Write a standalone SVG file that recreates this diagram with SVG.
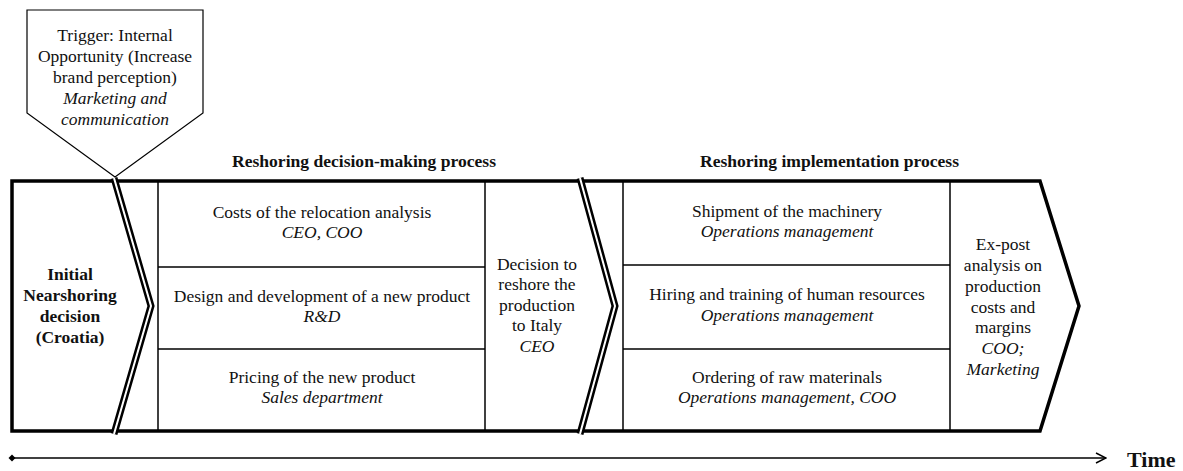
<svg xmlns="http://www.w3.org/2000/svg" width="1183" height="471" viewBox="0 0 1183 471">
  <style>
    .txt { font-family: "Liberation Serif", "Times New Roman", serif; font-size: 17.5px; fill: #111; text-anchor: middle; }
    .it { font-style: italic; }
    .bold { font-weight: bold; }
    .hdr { font-family: "Liberation Serif", "Times New Roman", serif; font-size: 17.5px; font-weight: bold; fill: #111; }
    .frame { fill: #fff; stroke: #000; stroke-width: 3.5; stroke-linejoin: miter; }
    .cell { fill: none; stroke: #000; stroke-width: 1.5; }
    .chev-out { fill: none; stroke: #000; stroke-width: 7; stroke-linejoin: miter; }
    .chev-in { fill: none; stroke: #fff; stroke-width: 2; stroke-linejoin: miter; }
    .axis { fill: none; stroke: #000; stroke-width: 1.3; }
  </style>
  <defs>
    <marker id="arrowOpen" viewBox="0 0 12 12" refX="11" refY="6" markerWidth="12" markerHeight="12" markerUnits="userSpaceOnUse" orient="auto">
      <path d="M1,1 L11,6 L1,11" fill="none" stroke="#000" stroke-width="1.5"/>
    </marker>
    <marker id="dotStart" viewBox="0 0 8 8" refX="4" refY="4" markerWidth="8" markerHeight="8" markerUnits="userSpaceOnUse">
      <path d="M4,0.5 L7.5,4 L4,7.5 L0.5,4 Z" fill="#000"/>
    </marker>
  </defs>

  <!-- trigger callout -->
  <g id="trigger">
    <path d="M27,10 H203 V113 L115,177 L27,113 Z" fill="#fff" stroke="#000" stroke-width="1.2"/>
    <text class="txt" x="115" y="41">Trigger: Internal</text>
    <text class="txt" x="115" y="62">Opportunity (Increase</text>
    <text class="txt" x="115" y="83">brand perception)</text>
    <text class="txt it" x="115" y="104">Marketing and</text>
    <text class="txt it" x="115" y="125">communication</text>
  </g>

  <!-- phase headings -->
  <g id="headings">
    <text class="hdr" x="232" y="167" textLength="264" lengthAdjust="spacingAndGlyphs">Reshoring decision-making process</text>
    <text class="hdr" x="700" y="167" textLength="259" lengthAdjust="spacingAndGlyphs">Reshoring implementation process</text>
  </g>

  <!-- outer process frame -->
  <g id="frame">
    <path class="frame" d="M12,181 H1040 L1079,306 L1040,431 H12 Z"/>
  </g>

  <!-- initial decision -->
  <g id="initial">
    <text class="txt bold" x="70" y="280">Initial</text>
    <text class="txt bold" x="70" y="301">Nearshoring</text>
    <text class="txt bold" x="70" y="322">decision</text>
    <text class="txt bold" x="70" y="343">(Croatia)</text>
  </g>

  <!-- decision-making activities -->
  <g id="decision-activities">
    <line class="cell" x1="158" y1="181" x2="158" y2="431"/>
    <line class="cell" x1="485" y1="181" x2="485" y2="431"/>
    <line class="cell" x1="158" y1="267" x2="485" y2="267"/>
    <line class="cell" x1="158" y1="349" x2="485" y2="349"/>
    <text class="txt" x="322" y="218">Costs of the relocation analysis</text>
    <text class="txt it" x="322" y="238">CEO, COO</text>
    <text class="txt" x="322" y="302">Design and development of a new product</text>
    <text class="txt it" x="322" y="322">R&amp;D</text>
    <text class="txt" x="322" y="383">Pricing of the new product</text>
    <text class="txt it" x="322" y="403">Sales department</text>
  </g>

  <!-- reshoring decision -->
  <g id="decision">
    <text class="txt" x="537" y="270">Decision to</text>
    <text class="txt" x="537" y="290">reshore the</text>
    <text class="txt" x="537" y="311">production</text>
    <text class="txt" x="537" y="331">to Italy</text>
    <text class="txt it" x="537" y="352">CEO</text>
  </g>

  <!-- implementation activities -->
  <g id="implementation-activities">
    <line class="cell" x1="623" y1="181" x2="623" y2="431"/>
    <line class="cell" x1="950" y1="181" x2="950" y2="431"/>
    <line class="cell" x1="623" y1="265" x2="950" y2="265"/>
    <line class="cell" x1="623" y1="349" x2="950" y2="349"/>
    <text class="txt" x="787" y="217">Shipment of the machinery</text>
    <text class="txt it" x="787" y="237">Operations management</text>
    <text class="txt" x="787" y="300">Hiring and training of human resources</text>
    <text class="txt it" x="787" y="321">Operations management</text>
    <text class="txt" x="787" y="383">Ordering of raw materinals</text>
    <text class="txt it" x="787" y="403">Operations management, COO</text>
  </g>

  <!-- ex-post analysis -->
  <g id="expost">
    <text class="txt" x="1003" y="250">Ex-post</text>
    <text class="txt" x="1003" y="271">analysis on</text>
    <text class="txt" x="1003" y="292">production</text>
    <text class="txt" x="1003" y="313">costs and</text>
    <text class="txt" x="1003" y="333">margins</text>
    <text class="txt it" x="1003" y="354">COO;</text>
    <text class="txt it" x="1003" y="375">Marketing</text>
  </g>

  <!-- phase separators and time axis -->
  <g id="connectors">
    <polyline class="chev-out" points="114,178 151,306 114,434"/>
    <polyline class="chev-in" points="114,178 151,306 114,434"/>
    <polyline class="chev-out" points="580,178 615,306 580,434"/>
    <polyline class="chev-in" points="580,178 615,306 580,434"/>
    <line class="axis" x1="12" y1="458" x2="1106" y2="458" marker-start="url(#dotStart)" marker-end="url(#arrowOpen)"/>
  </g>

  <g id="time-label">
    <text x="1127" y="467" font-family="Liberation Serif, serif" font-size="22" font-weight="bold" fill="#111">Time</text>
  </g>
</svg>
